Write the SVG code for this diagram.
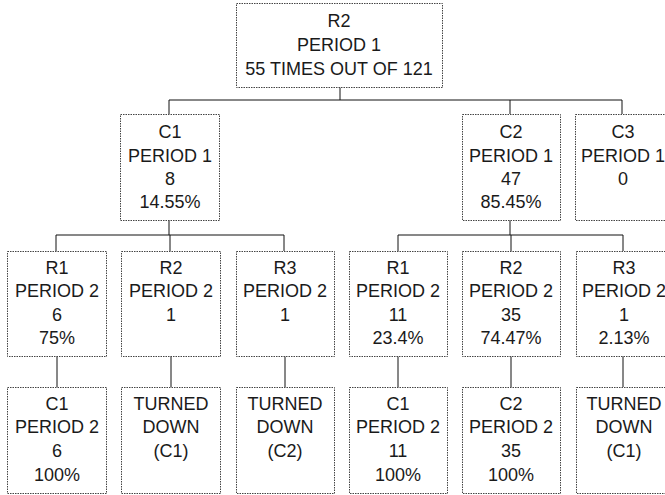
<svg xmlns="http://www.w3.org/2000/svg" width="665" height="495" viewBox="0 0 665 495">
<style>
.box{fill:#fff;stroke:#444;stroke-width:1;stroke-dasharray:1.5,1}
.t{font-family:"Liberation Sans",Arial,sans-serif;font-size:18px;fill:#1a1a1a;text-anchor:middle}
.c{fill:none;stroke:#111;stroke-width:1}
</style>
<rect width="665" height="495" fill="#fff"/>
<g id="connectors" class="c">
<path d="M340 87V100M169 100H622M169 100V114M510 100V114M622 100V114"/>
<path d="M169 220V235M56 235H284M56 235V251M170 235V251M284 235V251"/>
<path d="M510 220V235M398 235H623M398 235V251M511 235V251M623 235V251"/>
<path d="M57 356V387M171 356V387M285 356V387M398 356V387M511 356V387M623 356V387"/>
</g>
<g id="root"><rect class="box" x="236.5" y="3.5" width="206" height="84"/>
<text class="t" x="339" y="27">R2</text><text class="t" x="339" y="51">PERIOD 1</text><text class="t" x="339" y="75">55 TIMES OUT OF 121</text></g>
<g id="c1p1"><rect class="box" x="120.5" y="114.5" width="99" height="106"/>
<text class="t" x="170" y="138">C1</text><text class="t" x="170" y="162">PERIOD 1</text><text class="t" x="170" y="185">8</text><text class="t" x="170" y="208">14.55%</text></g>
<g id="c2p1"><rect class="box" x="462.5" y="114.5" width="98" height="106"/>
<text class="t" x="511" y="138">C2</text><text class="t" x="511" y="162">PERIOD 1</text><text class="t" x="511" y="185">47</text><text class="t" x="511" y="208">85.45%</text></g>
<g id="c3p1"><rect class="box" x="575.5" y="114.5" width="98" height="106"/>
<text class="t" x="623" y="138">C3</text><text class="t" x="623" y="162">PERIOD 1</text><text class="t" x="623" y="185">0</text></g>
<g id="r1a"><rect class="box" x="7.5" y="251.5" width="99" height="105"/>
<text class="t" x="57" y="274">R1</text><text class="t" x="57" y="297">PERIOD 2</text><text class="t" x="57" y="321">6</text><text class="t" x="57" y="344">75%</text></g>
<g id="r2a"><rect class="box" x="121.5" y="251.5" width="99" height="105"/>
<text class="t" x="171" y="274">R2</text><text class="t" x="171" y="297">PERIOD 2</text><text class="t" x="171" y="321">1</text></g>
<g id="r3a"><rect class="box" x="236.5" y="251.5" width="98" height="105"/>
<text class="t" x="285" y="274">R3</text><text class="t" x="285" y="297">PERIOD 2</text><text class="t" x="285" y="321">1</text></g>
<g id="r1b"><rect class="box" x="349.5" y="251.5" width="98" height="105"/>
<text class="t" x="398" y="274">R1</text><text class="t" x="398" y="297">PERIOD 2</text><text class="t" x="398" y="321">11</text><text class="t" x="398" y="344">23.4%</text></g>
<g id="r2b"><rect class="box" x="462.5" y="251.5" width="98" height="105"/>
<text class="t" x="511" y="274">R2</text><text class="t" x="511" y="297">PERIOD 2</text><text class="t" x="511" y="321">35</text><text class="t" x="511" y="344">74.47%</text></g>
<g id="r3b"><rect class="box" x="576.5" y="251.5" width="98" height="105"/>
<text class="t" x="624" y="274">R3</text><text class="t" x="624" y="297">PERIOD 2</text><text class="t" x="624" y="321">1</text><text class="t" x="624" y="344">2.13%</text></g>
<g id="c1p2a"><rect class="box" x="7.5" y="387.5" width="99" height="106"/>
<text class="t" x="57" y="410">C1</text><text class="t" x="57" y="433">PERIOD 2</text><text class="t" x="57" y="457">6</text><text class="t" x="57" y="481">100%</text></g>
<g id="td1"><rect class="box" x="121.5" y="387.5" width="99" height="106"/>
<text class="t" x="171" y="410">TURNED</text><text class="t" x="171" y="433">DOWN</text><text class="t" x="171" y="457">(C1)</text></g>
<g id="td2"><rect class="box" x="236.5" y="387.5" width="98" height="106"/>
<text class="t" x="285" y="410">TURNED</text><text class="t" x="285" y="433">DOWN</text><text class="t" x="285" y="457">(C2)</text></g>
<g id="c1p2b"><rect class="box" x="349.5" y="387.5" width="98" height="106"/>
<text class="t" x="398" y="410">C1</text><text class="t" x="398" y="433">PERIOD 2</text><text class="t" x="398" y="457">11</text><text class="t" x="398" y="481">100%</text></g>
<g id="c2p2"><rect class="box" x="462.5" y="387.5" width="98" height="106"/>
<text class="t" x="511" y="410">C2</text><text class="t" x="511" y="433">PERIOD 2</text><text class="t" x="511" y="457">35</text><text class="t" x="511" y="481">100%</text></g>
<g id="td3"><rect class="box" x="576.5" y="387.5" width="98" height="106"/>
<text class="t" x="624" y="410">TURNED</text><text class="t" x="624" y="433">DOWN</text><text class="t" x="624" y="457">(C1)</text></g>
</svg>
